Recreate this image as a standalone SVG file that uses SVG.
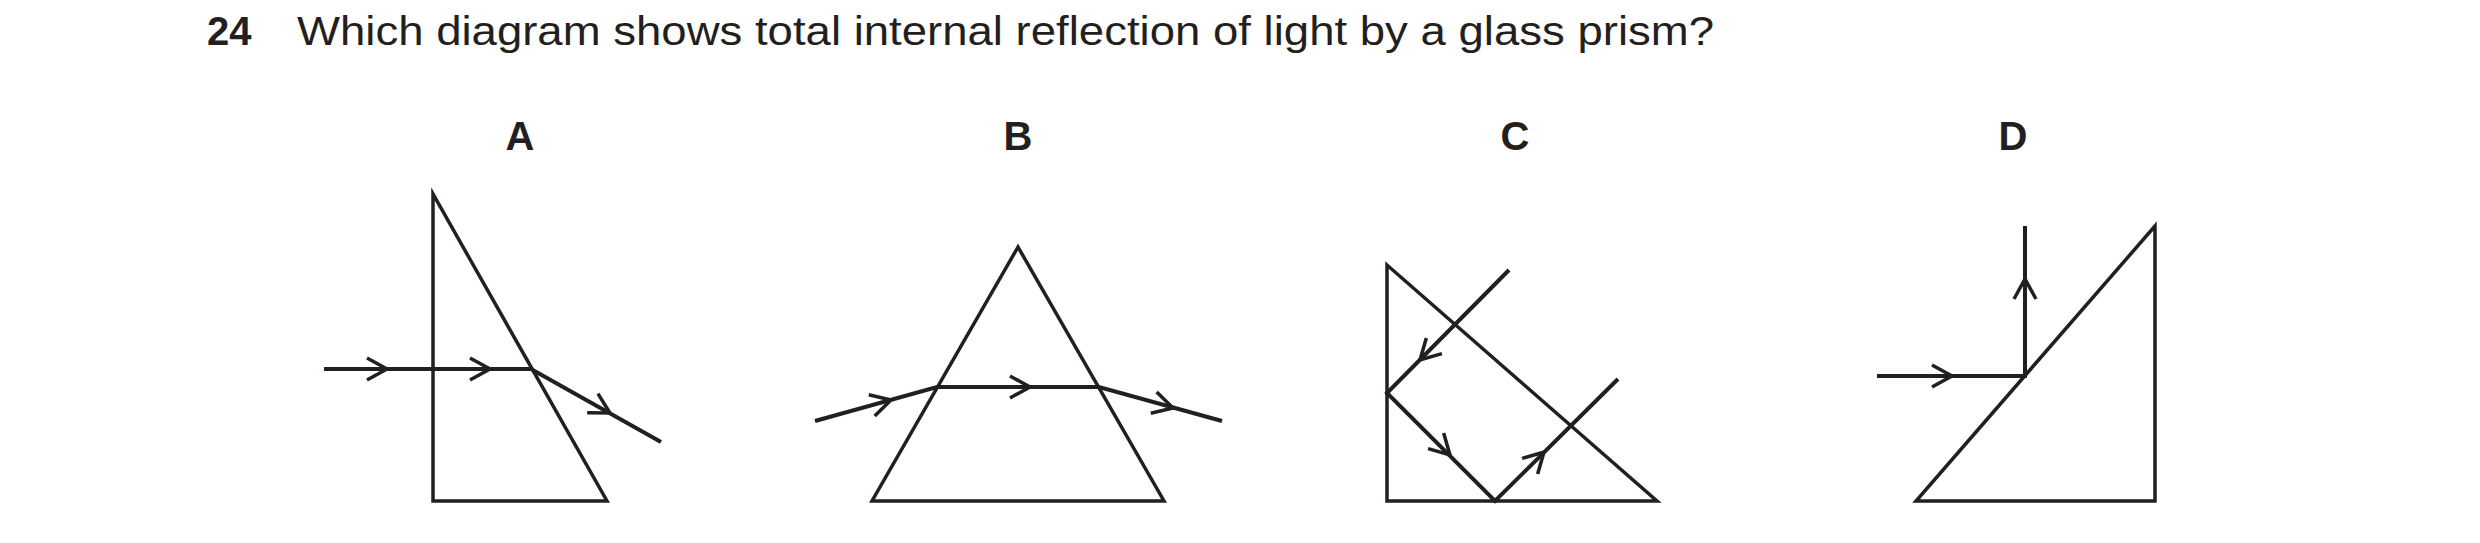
<svg xmlns="http://www.w3.org/2000/svg" xmlns:xlink="http://www.w3.org/1999/xlink" width="2480" height="543" viewBox="0 0 2480 543">
<style>
.t{font-family:"Liberation Sans",Arial,sans-serif;fill:#231f20}
.lbl{font-size:40px;font-weight:bold;text-anchor:middle}
.prism{fill:none;stroke:#231f20;stroke-width:3.5;stroke-linejoin:miter}
.ray{fill:none;stroke:#231f20;stroke-width:4;stroke-linejoin:miter}
.ar{fill:none;stroke:#231f20;stroke-width:3.5}
</style>
<defs><path id="chev" d="M-20,-11 L0,0 L-20,11"/></defs>
<rect width="2480" height="543" fill="#fff"/>
<text class="t" x="207" y="45" font-size="40" font-weight="bold">24</text>
<text class="t" x="297" y="45" font-size="40" textLength="1417" lengthAdjust="spacingAndGlyphs">Which diagram shows total internal reflection of light by a glass prism?</text>
<g id="A">
<text class="t lbl" x="520" y="150">A</text>
<polygon class="prism" points="433,194 433,501 607,501"/>
</g>
<g id="B">
<text class="t lbl" x="1018" y="150">B</text>
<polygon class="prism" points="1018,247 872,501 1164,501"/>
</g>
<g id="C">
<text class="t lbl" x="1515" y="150">C</text>
<polygon class="prism" points="1387,265 1387,501 1657,501"/>
</g>
<g id="D">
<text class="t lbl" x="2013" y="150">D</text>
<polygon class="prism" points="2155,226 2155,501 1916,501"/>
</g>
<g id="connectors">
<polyline class="ray" points="324,369 531,369 661,442"/>
<use href="#chev" class="ar" transform="translate(387,369)"/>
<use href="#chev" class="ar" transform="translate(490,369)"/>
<use href="#chev" class="ar" transform="translate(610,413) rotate(29.3)"/>
<polyline class="ray" points="815,421 937,387 1099,387 1222,421"/>
<use href="#chev" class="ar" transform="translate(891,400) rotate(-15.6)"/>
<use href="#chev" class="ar" transform="translate(1030,387)"/>
<use href="#chev" class="ar" transform="translate(1173,408) rotate(15.5)"/>
<polyline class="ray" points="1509,270 1387,393 1495,501 1618,379"/>
<use href="#chev" class="ar" transform="translate(1420,360) rotate(135)"/>
<use href="#chev" class="ar" transform="translate(1450,455) rotate(45)"/>
<use href="#chev" class="ar" transform="translate(1544,452) rotate(-45)"/>
<polyline class="ray" points="1877,376 2025,376 2025,226"/>
<use href="#chev" class="ar" transform="translate(1952,376)"/>
<use href="#chev" class="ar" transform="translate(2025,279) rotate(-90)"/>
</g>
</svg>
